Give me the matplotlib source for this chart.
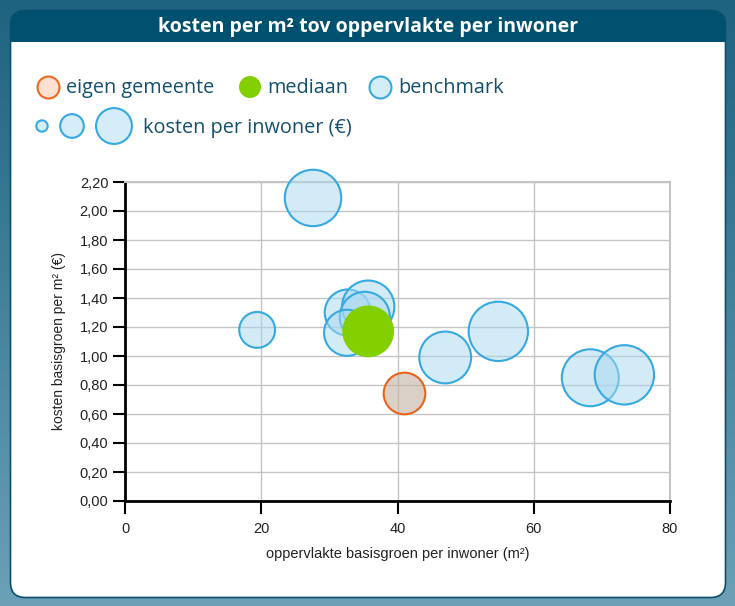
import numpy as np
import matplotlib
matplotlib.use("Agg")
import matplotlib.pyplot as plt
from matplotlib.patches import FancyBboxPatch, Rectangle
from matplotlib.ticker import FuncFormatter

# ---------------- data ----------------
bench_x = [27.6, 19.4, 32.7, 35.7, 35.2, 32.6, 47.0, 54.8, 68.3, 73.3]
bench_y = [2.09, 1.18, 1.30, 1.34, 1.27, 1.16, 0.99, 1.17, 0.85, 0.87]
bench_cost = [57, 23, 38, 49, 45, 38, 48, 63, 58, 63]

median_x = [35.7]
median_y = [1.17]
median_cost = [48]

own_x = [41.0]
own_y = [0.745]
own_cost = [31]

legend_size_cost = [2.3, 10, 23]

title = "kosten per m² tov oppervlakte per inwoner"
xlabel = "oppervlakte basisgroen per inwoner (m²)"
ylabel = "kosten basisgroen per m² (€)"
xticks = [0, 20, 40, 60, 80]
yticks = [0.0, 0.2, 0.4, 0.6, 0.8, 1.0, 1.2, 1.4, 1.6, 1.8, 2.0, 2.2]

SCALE = 29.0  # points^2 per euro

W, H = 735, 606
fig = plt.figure(figsize=(W / 100, H / 100), dpi=100)

# ---------------- background / card ----------------
bg = fig.add_axes([0, 0, 1, 1], zorder=0)
bg.set_xlim(0, W)
bg.set_ylim(H, 0)
bg.axis("off")
top_c = np.array([0x1e, 0x63, 0x80]) / 255
bot_c = np.array([0x6c, 0xa0, 0xb7]) / 255
t = np.linspace(0, 1, 256)[:, None]
grad = top_c[None, None, :] * (1 - t[:, :, None]) + bot_c[None, None, :] * t[:, :, None]
grad = np.repeat(grad, 2, axis=1)
bg.imshow(grad, extent=[0, W, H, 0], aspect="auto", zorder=0)

card = FancyBboxPatch((10.5, 10.5), 715, 587, boxstyle="round,pad=0,rounding_size=15",
                      facecolor="white", edgecolor="#0a4f6c", linewidth=1.2, zorder=1)
bg.add_patch(card)
# title bar (rounded top, square bottom)
bar = FancyBboxPatch((10.5, 10.5), 715, 31.5, boxstyle="round,pad=0,rounding_size=15",
                     facecolor="#00506f", edgecolor="none", zorder=2)
bg.add_patch(bar)
bg.add_patch(Rectangle((10.5, 26), 715, 16, facecolor="#00506f", edgecolor="none", zorder=2))
bg.text(368, 27, title, color="white", fontsize=14, fontweight="bold",
        family="Open Sans", ha="center", va="center", zorder=3)

# ---------------- legend ----------------
txt_c = "#145070"
lfs = 14.3
leg_s = 250
bg.scatter([48], [87], s=leg_s, facecolor="#fde0d0", edgecolor="#f06a1e", linewidth=1.5, zorder=3)
bg.text(66, 88, "eigen gemeente", color=txt_c, fontsize=lfs, family="Open Sans", va="center", zorder=3)
bg.scatter([250], [87], s=leg_s, facecolor="#84cf00", edgecolor="none", zorder=3)
bg.text(267, 88, "mediaan", color=txt_c, fontsize=lfs, family="Open Sans", va="center", zorder=3)
bg.scatter([380], [87], s=leg_s, facecolor="#d5edf9", edgecolor="#36a9e1", linewidth=1.5, zorder=3)
bg.text(398, 88, "benchmark", color=txt_c, fontsize=lfs, family="Open Sans", va="center", zorder=3)
bg.scatter([42, 72, 114], [126, 126, 126], s=[SCALE * c for c in legend_size_cost],
           facecolor="#d5edf9", edgecolor="#36a9e1", linewidth=1.5, zorder=3)
bg.text(143, 128, "kosten per inwoner (€)", color=txt_c, fontsize=lfs, family="Open Sans",
        va="center", zorder=3)

# ---------------- main axes ----------------
ax = fig.add_axes([125 / W, (H - 501) / H, (670 - 125) / W, (501 - 182) / H], zorder=2)
ax.set_facecolor("none")
ax.set_xlim(0, 80)
ax.set_ylim(0, 2.2)
ax.set_xticks(xticks)
ax.set_yticks(yticks)
ax.yaxis.set_major_formatter(FuncFormatter(lambda v, p: f"{v:.2f}".replace(".", ",")))
ax.grid(True, color="#c4c4c4", linewidth=1, zorder=0)
ax.set_axisbelow(True)
for side in ["top", "right"]:
    ax.spines[side].set_color("#c4c4c4")
    ax.spines[side].set_linewidth(1.5)
for side in ["left", "bottom"]:
    ax.spines[side].set_color("black")
    ax.spines[side].set_linewidth(2)
ax.tick_params(axis="both", direction="out", length=9, width=1.5, color="black",
               labelsize=10.5, labelcolor="#222222")
ax.tick_params(axis="x", pad=6)
ax.tick_params(axis="y", pad=3)
for lab in ax.get_xticklabels() + ax.get_yticklabels():
    lab.set_family("Liberation Sans")
ax.set_xlabel(xlabel, fontsize=10.5, family="Liberation Sans", color="#222222", labelpad=8)
ax.set_ylabel(ylabel, fontsize=10, family="Liberation Sans", color="#222222", labelpad=10)

ax.scatter(bench_x, bench_y, s=[SCALE * c for c in bench_cost],
           facecolor=(169 / 255, 217 / 255, 241 / 255, 0.5), edgecolor="#36a9e1",
           linewidth=1.5, zorder=3, clip_on=False)
ax.scatter(median_x, median_y, s=[SCALE * c for c in median_cost],
           facecolor="#84cf00", edgecolor="none", zorder=4, clip_on=False)
ax.scatter(own_x, own_y, s=[SCALE * c for c in own_cost],
           facecolor=(196 / 255, 178 / 255, 162 / 255, 0.6), edgecolor="#e8641b",
           linewidth=1.5, zorder=4, clip_on=False)

fig.savefig("out.png", dpi=100)
